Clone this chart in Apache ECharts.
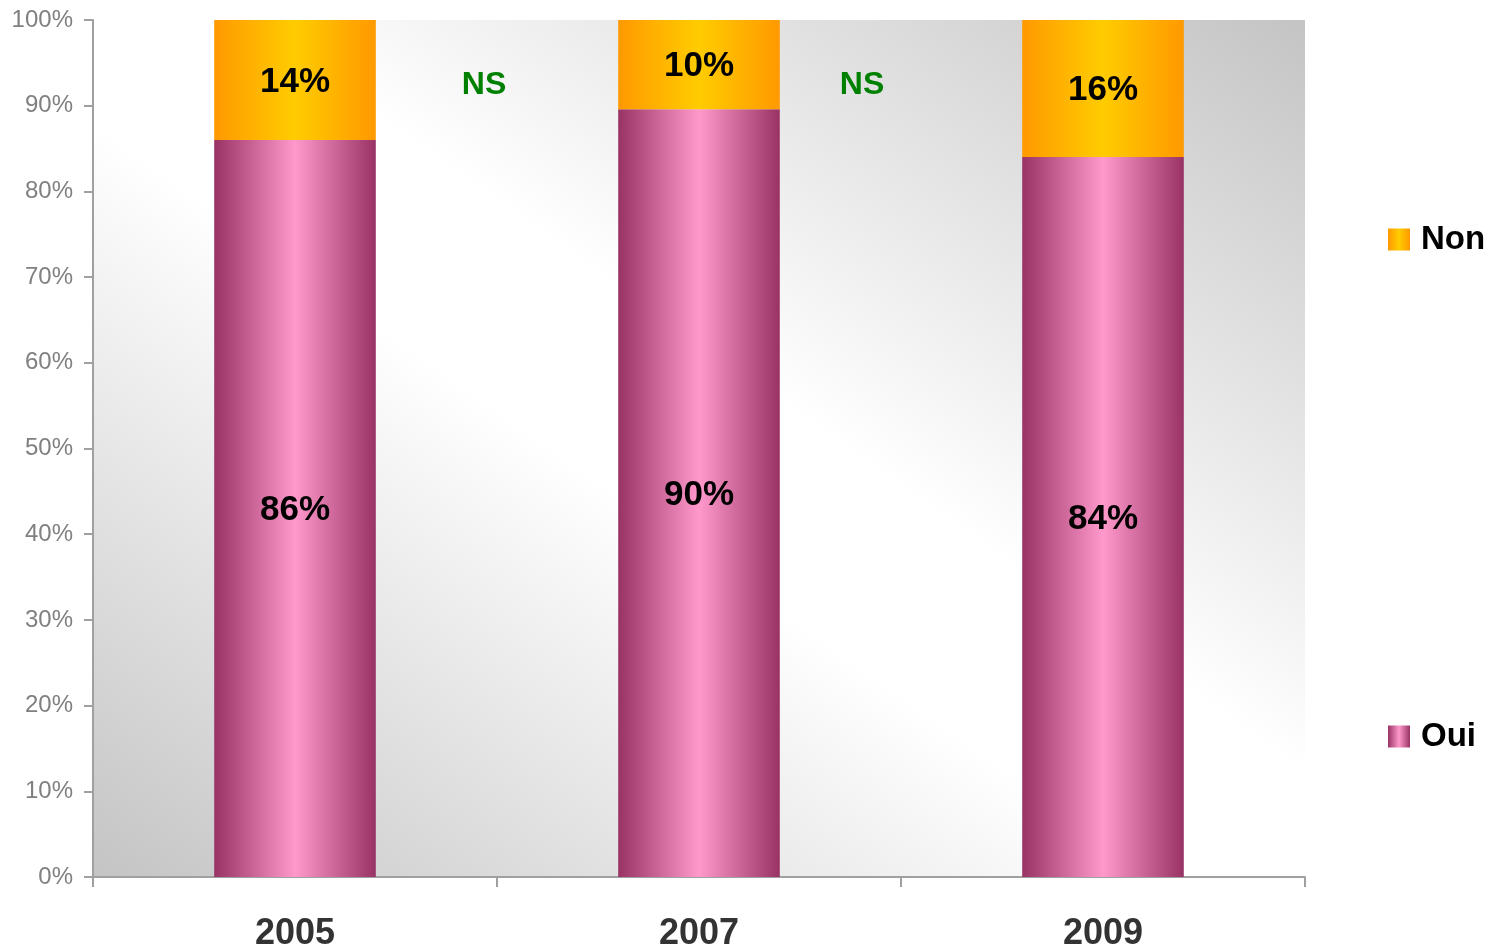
<!DOCTYPE html>
<html>
<head>
<meta charset="utf-8">
<title>Oui / Non</title>
<script src="https://cdn.jsdelivr.net/npm/echarts@6/dist/echarts.min.js"></script>
<style>
  html, body { margin: 0; padding: 0; background: #fff; }
  #chart { width: 1488px; height: 947px; }
</style>
</head>
<body>
<div id="chart"></div>
<script>
// données
const years = ['2005', '2007', '2009'];
const oui = [86, 89.6, 84];
const non = [14, 10.4, 16];
const yTicks = [0, 10, 20, 30, 40, 50, 60, 70, 80, 90, 100];
const notes = ['NS', 'NS'];

// 1. init
const myChart = echarts.init(document.getElementById('chart'));

const pink = new echarts.graphic.LinearGradient(0, 0, 1, 0, [
    { offset: 0, color: '#993366' },
    { offset: 0.5, color: '#ff99cc' },
    { offset: 1, color: '#993366' }
]);
const orange = new echarts.graphic.LinearGradient(0, 0, 1, 0, [
    { offset: 0, color: '#ff9900' },
    { offset: 0.5, color: '#ffcc00' },
    { offset: 1, color: '#ff9900' }
]);

// fond : gris en bas à gauche et en haut à droite, blanc sur la diagonale
// haut-gauche / bas-droite (zone de tracé 1212 x 857)
const bgW = 1212, bgH = 857;
const s = bgW * bgW / (bgW * bgW + bgH * bgH) - 0.5; // ~0.1667
const background = new echarts.graphic.LinearGradient(
    0.5 - (0.5 - s), 0.5 + (0.5 + s),
    0.5 + (0.5 - s), 0.5 - (0.5 + s), [
    { offset: 0, color: '#c4c4c4' },
    { offset: 0.44, color: '#ffffff' },
    { offset: 0.56, color: '#ffffff' },
    { offset: 1, color: '#c4c4c4' }
]);

const label = {
    show: true,
    position: 'inside',
    offset: [0, 2],
    color: '#000',
    fontFamily: 'Liberation Sans, Arial, sans-serif',
    fontWeight: 'bold',
    fontSize: 35,
    formatter: p => Math.round(p.value) + '%'
};

// 2. options
const option = {
    animation: false,
    grid: {
        left: 93,
        right: 183,
        top: 20,
        bottom: 70,
        outerBoundsMode: 'none',
        show: true,
        borderWidth: 0,
        backgroundColor: background
    },
    legend: {
        data: ['Non', 'Oui'],
        orient: 'vertical',
        left: 1383,
        top: 218,
        icon: 'rect',
        itemWidth: 22,
        itemHeight: 22,
        itemGap: 464,
        textStyle: {
            color: '#000',
            padding: [0, 0, 0, 6],
            fontFamily: 'Liberation Sans, Arial, sans-serif',
            fontWeight: 'bold',
            fontSize: 33
        }
    },
    xAxis: {
        type: 'category',
        data: years,
        axisLine: { lineStyle: { color: '#a0a0a0', width: 2 } },
        axisTick: { show: true, length: 10, lineStyle: { color: '#a0a0a0', width: 2 } },
        axisLabel: {
            margin: 39,
            color: '#333',
            fontFamily: 'Liberation Sans, Arial, sans-serif',
            fontWeight: 'bold',
            fontSize: 36
        }
    },
    yAxis: {
        type: 'value',
        min: yTicks[0],
        max: yTicks[yTicks.length - 1],
        interval: 10,
        splitLine: { show: false },
        axisLine: { show: true, lineStyle: { color: '#a0a0a0', width: 2 } },
        axisTick: { show: true, length: 9, lineStyle: { color: '#a0a0a0', width: 2 } },
        axisLabel: {
            margin: 20,
            padding: [3, 0, 0, 0],
            color: '#808080',
            fontFamily: 'Liberation Sans, Arial, sans-serif',
            fontSize: 24,
            formatter: '{value}%'
        }
    },
    series: [
        {
            name: 'Oui',
            type: 'bar',
            stack: 'total',
            data: oui,
            barWidth: '40%',
            itemStyle: { color: pink },
            label: label
        },
        {
            name: 'Non',
            type: 'bar',
            stack: 'total',
            data: non,
            barWidth: '40%',
            itemStyle: { color: orange },
            label: label
        }
    ],
    // mentions NS entre les barres
    graphic: [
        {
            type: 'text', x: 484, y: 85,
            style: {
                text: notes[0], fill: '#008000', align: 'center', verticalAlign: 'middle',
                font: 'bold 32px "Liberation Sans", Arial, sans-serif'
            }
        },
        {
            type: 'text', x: 862, y: 85,
            style: {
                text: notes[1], fill: '#008000', align: 'center', verticalAlign: 'middle',
                font: 'bold 32px "Liberation Sans", Arial, sans-serif'
            }
        }
    ]
};

// 3. render
myChart.setOption(option);
</script>
</body>
</html>
